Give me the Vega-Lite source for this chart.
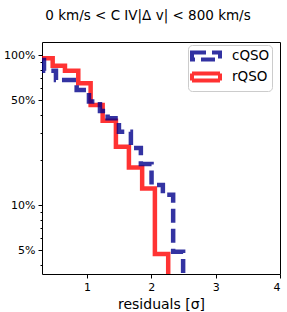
{
  "$schema": "https://vega.github.io/schema/vega-lite/v6.json",
  "width": 238,
  "height": 232,
  "autosize": {"type": "none"},
  "padding": {"left": 42, "top": 42, "right": 7, "bottom": 38},
  "background": "white",
  "title": {
    "text": "0 km/s < C IV|Δ v| < 800 km/s",
    "font": "DejaVu Sans",
    "fontSize": 13.5,
    "fontWeight": "normal",
    "color": "black",
    "anchor": "middle",
    "dx": -13,
    "offset": 20
  },
  "config": {
    "view": {"stroke": "black", "strokeWidth": 1},
    "axis": {
      "labelFont": "DejaVu Sans",
      "labelFontSize": 11,
      "labelColor": "black",
      "titleFont": "DejaVu Sans",
      "titleFontWeight": "normal",
      "titleColor": "black",
      "tickColor": "black",
      "domainColor": "black",
      "grid": false
    },
    "legend": {
      "labelFont": "DejaVu Sans",
      "labelFontSize": 13.5,
      "labelColor": "black"
    }
  },
  "data": {
    "values": [
      {"s": "rQSO", "x": 0.3, "f": 0.95},
      {"s": "rQSO", "x": 0.466, "f": 0.849},
      {"s": "rQSO", "x": 0.657, "f": 0.786},
      {"s": "rQSO", "x": 0.864, "f": 0.648},
      {"s": "rQSO", "x": 1.056, "f": 0.464},
      {"s": "rQSO", "x": 1.243, "f": 0.365},
      {"s": "rQSO", "x": 1.449, "f": 0.245},
      {"s": "rQSO", "x": 1.651, "f": 0.178},
      {"s": "rQSO", "x": 1.857, "f": 0.129},
      {"s": "rQSO", "x": 2.055, "f": 0.0471},
      {"s": "rQSO", "x": 2.262, "f": 0.001},
      {"s": "cQSO", "x": 0.3, "f": 0.926},
      {"s": "cQSO", "x": 0.331, "f": 0.786},
      {"s": "cQSO", "x": 0.517, "f": 0.681},
      {"s": "cQSO", "x": 0.839, "f": 0.584},
      {"s": "cQSO", "x": 1.03, "f": 0.489},
      {"s": "cQSO", "x": 1.201, "f": 0.424},
      {"s": "cQSO", "x": 1.32, "f": 0.379},
      {"s": "cQSO", "x": 1.496, "f": 0.308},
      {"s": "cQSO", "x": 1.682, "f": 0.24},
      {"s": "cQSO", "x": 1.837, "f": 0.188},
      {"s": "cQSO", "x": 2.003, "f": 0.136},
      {"s": "cQSO", "x": 2.179, "f": 0.117},
      {"s": "cQSO", "x": 2.339, "f": 0.0489},
      {"s": "cQSO", "x": 2.494, "f": 0.001}
    ]
  },
  "encoding": {
    "x": {
      "field": "x",
      "type": "quantitative",
      "scale": {"domain": [0.3, 4], "nice": false, "zero": false},
      "axis": {
        "values": [1, 2, 3, 4],
        "format": "d",
        "title": "residuals [σ]",
        "titleFontSize": 14,
        "titlePadding": 5,
        "tickSize": 4,
        "labelPadding": 3,
        "domain": false
      }
    },
    "y": {
      "field": "f",
      "type": "quantitative",
      "scale": {"type": "log", "domain": [0.0347, 1.221], "nice": false},
      "axis": {
        "values": [0.04, 0.05, 0.06, 0.07, 0.08, 0.09, 0.1, 0.2, 0.3, 0.4, 0.5, 0.6, 0.7, 0.8, 0.9, 1],
        "labelExpr": "indexof([0.05, 0.1, 0.5, 1], datum.value) >= 0 ? format(datum.value * 100, 'd') + '%' : ''",
        "tickSize": {"condition": {"test": "indexof([0.05, 0.1, 0.5, 1], datum.value) >= 0", "value": 4}, "value": 2},
        "labelPadding": 3,
        "title": null,
        "domain": false
      }
    },
    "color": {
      "field": "s",
      "type": "nominal",
      "scale": {"domain": ["cQSO", "rQSO"], "range": ["darkblue", "red"]},
      "legend": {
        "title": null,
        "orient": "none",
        "legendX": 146,
        "legendY": 3,
        "fillColor": "white",
        "strokeColor": "#cccccc",
        "cornerRadius": 4,
        "padding": 2,
        "rowPadding": -10,
        "labelOffset": 24,
        "symbolType": "M-1,-0.5H3V0.5H-1Z",
        "symbolSize": 196,
        "symbolStrokeWidth": 4,
        "symbolOpacity": 0.8,
        "symbolFillColor": "transparent"
      }
    },
    "strokeDash": {
      "field": "s",
      "type": "nominal",
      "scale": {"domain": ["cQSO", "rQSO"], "range": [[14, 6], [1, 0]]},
      "legend": null
    }
  },
  "layer": [
    {
      "transform": [{"filter": "datum.s == 'rQSO'"}],
      "mark": {"type": "line", "interpolate": "step-after", "strokeWidth": 4.5, "opacity": 0.8, "clip": true}
    },
    {
      "transform": [{"filter": "datum.s == 'cQSO'"}],
      "mark": {"type": "line", "interpolate": "step-after", "strokeWidth": 4.5, "opacity": 0.8, "clip": true}
    }
  ]
}
